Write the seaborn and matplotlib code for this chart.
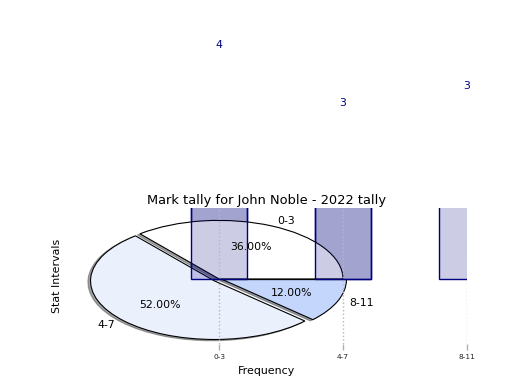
import matplotlib
matplotlib.use("Agg")
import matplotlib.pyplot as plt
import seaborn as sns
from matplotlib.colors import to_rgba

# data
intervals = ["0-3", "4-7", "8-11"]
marks = [4, 3, 3.3]          # bar heights (labels show them rounded)
pie_share = [36, 52, 12]     # percent of marks per interval

bar_face = to_rgba("navy", 0.2)
pie_colors = ["white", "#ebf0fd", "#c4d6fc"]


def style_bars(container):
    for patch in container:
        patch.set_facecolor(bar_face)
        patch.set_edgecolor("navy")
        patch.set_linewidth(1.0)


fig, ax = plt.subplots(figsize=(5.2, 3.9), dpi=100)
fig.subplots_adjust(left=0.127, right=0.898, bottom=0.118, top=0.467)

# first bar layer sits under the pie
sns.barplot(x=intervals[:2], y=marks[:2], order=intervals, width=0.45,
            saturation=1, color="navy", legend=False, ax=ax)
style_bars(ax.containers[-1])

ax.pie(pie_share, labels=intervals, colors=pie_colors, explode=(0, 0.05, 0.03),
       autopct="%.2f%%", shadow=dict(ox=-0.015, oy=-0.015), startangle=0,
       wedgeprops=dict(edgecolor="black", linewidth=0.8),
       textprops=dict(fontsize=7.8))

# second bar layer drawn over the pie
sns.barplot(x=intervals, y=marks, order=intervals, width=0.45,
            saturation=1, color="navy", legend=False, ax=ax)
style_bars(ax.containers[-1])
if ax.get_legend() is not None:
    ax.get_legend().remove()

for i, v in enumerate(marks):
    ax.text(i, v, f"{v:.0f}", ha="center", va="center", color="navy",
            fontsize=7.8, clip_on=False)

ax.set_aspect("auto")
ax.set_frame_on(False)
ax.set_xlim(-1.234, 2.0)
ax.set_ylim(-1.111, 1.214)
ax.set_xticks(range(len(intervals)), intervals, fontsize=5.3, color="#222222")
ax.set_yticks([])
ax.tick_params(axis="x", color="#b0b0b0", length=4, width=1)
ax.set_axisbelow("line")
ax.grid(axis="x", linestyle=":", color="#b8b8b8", linewidth=1)
ax.grid(axis="y", visible=False)

ax.set_title("Mark tally for John Noble - 2022 tally", fontsize=9.4, pad=3)
ax.set_xlabel("Frequency", fontsize=7.9)
ax.set_ylabel("Stat Intervals", fontsize=7.9, labelpad=3)
ax.xaxis.label.set_visible(True)
ax.yaxis.label.set_visible(True)

fig.savefig("out.png", dpi=100)
plt.close(fig)
